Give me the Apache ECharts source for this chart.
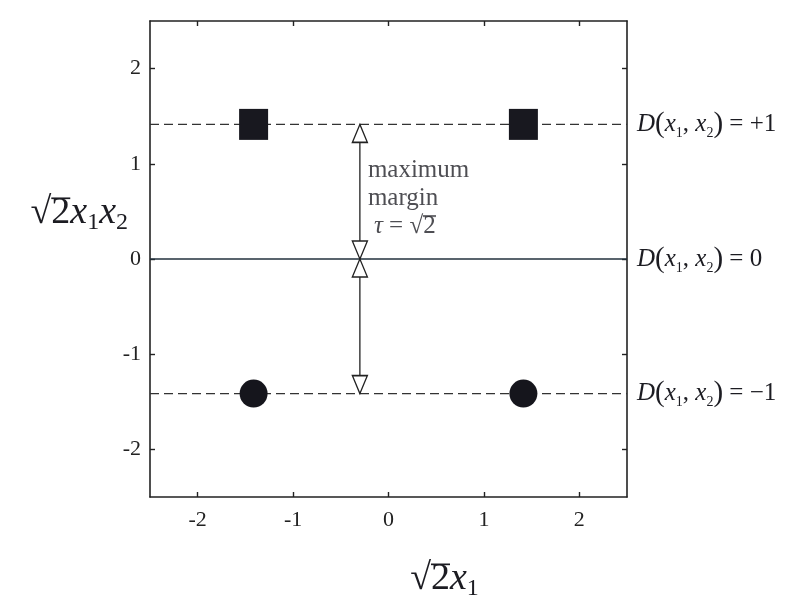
<!DOCTYPE html>
<html><head><meta charset="utf-8">
<script src="https://cdn.jsdelivr.net/npm/echarts@6/dist/echarts.min.js"></script>
<style>html,body{margin:0;background:#fff}#c{width:785px;height:601px}</style>
</head><body><div id="c"></div>
<script>
// Feature-space view of XOR: sqrt(2)x1 vs sqrt(2)x1x2
const tickValues = [-2, -1, 0, 1, 2];
const axisMin = -2.5, axisMax = 2.5;
const squareX = [-1.414, 1.414];
const squareY = [1.414, 1.414];
const circleX = [-1.414, 1.414];
const circleY = [-1.414, -1.414];
const boundaryY = [1.414, 0, -1.414];
const boundaryValue = ['+1', '0', '\u22121'];
const marginX = -0.3;
const noteAnchor = [-0.3, 0.64];
const noteLines = ['maximum', 'margin'];

const serif = "'Liberation Serif', 'DejaVu Serif', serif";
const ink = '#1c1c22';

// Thin bar drawn across the top of the radicand (vinculum of the square root)
function vinculum(boxH, row, thick) {
  const c = document.createElement('canvas');
  c.width = 4; c.height = boxH;
  const g = c.getContext('2d');
  g.fillStyle = ink;
  g.fillRect(0, row, 4, thick);
  return c;
}

const nameRich = {
  r: { fontFamily: serif, fontSize: 38, color: ink, lineHeight: 44 },
  n: { fontFamily: serif, fontSize: 38, color: ink, lineHeight: 44,
       backgroundColor: { image: vinculum(44, 4, 2) } },
  x: { fontFamily: serif, fontSize: 38, fontStyle: 'italic', color: ink, lineHeight: 44 },
  s: { fontFamily: serif, fontSize: 24, color: ink, verticalAlign: 'bottom', lineHeight: 22 }
};

const dLabelRich = {
  d: { fontFamily: serif, fontSize: 25, fontStyle: 'italic', color: ink, lineHeight: 32 },
  p: { fontFamily: serif, fontSize: 29, color: ink, lineHeight: 32 },
  x: { fontFamily: serif, fontSize: 25, fontStyle: 'italic', color: ink, lineHeight: 32 },
  s: { fontFamily: serif, fontSize: 14, color: ink, verticalAlign: 'bottom', lineHeight: 14 },
  e: { fontFamily: serif, fontSize: 25, color: ink, lineHeight: 32 }
};

function frameAxis(dim, pos, showLabels) {
  return {
    type: 'value', min: axisMin, max: axisMax, position: pos,
    axisLine: { show: true, onZero: false, lineStyle: { color: '#222', width: 1.6 } },
    axisTick: { show: true, inside: true, length: 5, customValues: tickValues,
      lineStyle: { color: '#222', width: 1.4 } },
    axisLabel: { show: showLabels, customValues: tickValues, margin: dim === 'x' ? 12 : 9,
      fontFamily: serif, fontSize: 22, color: '#222', formatter: v => String(v) },
    splitLine: { show: false }
  };
}

const xMain = frameAxis('x', 'bottom', true);
xMain.name = '{r|\u221a}{n|2}{x|x}{s|1}';
xMain.nameLocation = 'middle';
xMain.nameGap = 60;
xMain.nameTextStyle = { rich: nameRich, padding: [0, 0, 0, 112] };

const yMain = frameAxis('y', 'left', true);
yMain.name = '{r|\u221a}{n|2}{x|x}{s|1}{x|x}{s|2}';
yMain.nameLocation = 'middle';
yMain.nameRotate = 0;
yMain.nameGap = 22;
yMain.nameMoveOverlap = false;
yMain.nameTextStyle = { rich: nameRich, padding: [0, 0, 92, 0] };

function boundarySeries(y, val, dashed) {
  return {
    type: 'line', silent: true, symbol: 'none', z: 2,
    data: [[axisMin, y], [axisMax, y]],
    lineStyle: dashed ? { color: '#333', width: 1.3, type: [9, 5] } : { color: '#22303c', width: 1.6 },
    endLabel: {
      show: true, distance: 10,
      formatter: () => `{d|D}{p|(}{x|x}{s|1}{e|, }{x|x}{s|2}{p|)}{e| = ${val}}`,
      rich: dLabelRich
    }
  };
}

const arrowHeads = [
  { value: [marginX, boundaryY[0]], symbolRotate: 0, symbolOffset: [0, '50%'] },
  { value: [marginX, boundaryY[1]], symbolRotate: 180, symbolOffset: [0, '-50%'] },
  { value: [marginX, boundaryY[1]], symbolRotate: 0, symbolOffset: [0, '50%'] },
  { value: [marginX, boundaryY[2]], symbolRotate: 180, symbolOffset: [0, '-50%'] }
];

const option = {
  animation: false,
  backgroundColor: '#fff',
  grid: { left: 150, right: 158, top: 21, bottom: 104, outerBoundsMode: 'none', containLabel: false },
  xAxis: [xMain, frameAxis('x', 'top', false)],
  yAxis: [yMain, frameAxis('y', 'right', false)],
  series: [
    boundarySeries(boundaryY[0], boundaryValue[0], true),
    boundarySeries(boundaryY[1], boundaryValue[1], false),
    boundarySeries(boundaryY[2], boundaryValue[2], true),
    {
      type: 'line', silent: true, symbol: 'none', z: 3,
      data: [[marginX, boundaryY[0]], [marginX, boundaryY[2]]],
      lineStyle: { color: '#222', width: 1.3 }
    },
    {
      type: 'scatter', silent: true, z: 4, symbol: 'triangle', symbolSize: [15, 18],
      itemStyle: { color: '#fff', borderColor: '#222', borderWidth: 1.4, opacity: 1 },
      data: arrowHeads
    },
    {
      type: 'scatter', z: 5, symbol: 'rect', symbolSize: [29, 31],
      itemStyle: { color: '#18181f', opacity: 1 },
      data: squareX.map((x, i) => [x, squareY[i]])
    },
    {
      type: 'scatter', z: 5, symbol: 'circle', symbolSize: 28,
      itemStyle: { color: '#15151c', opacity: 1 },
      data: circleX.map((x, i) => [x, circleY[i]])
    },
    {
      type: 'scatter', silent: true, z: 6, symbolSize: 0,
      data: [noteAnchor],
      label: {
        show: true, position: 'right', distance: 8,
        formatter: () => `{t|${noteLines[0]}}\n{t|${noteLines[1]}}\n{g|\u03c4}{t| = \u221a}{n|2}`,
        rich: {
          t: { fontFamily: serif, fontSize: 25, color: '#222228', lineHeight: 28 },
          g: { fontFamily: serif, fontSize: 25, fontStyle: 'italic', color: '#222228', lineHeight: 28, padding: [0, 0, 0, 6] },
          n: { fontFamily: serif, fontSize: 25, color: '#222228', lineHeight: 28,
               backgroundColor: { image: vinculum(28, 2, 1.5) } }
        }
      }
    }
  ]
};

const chart = echarts.init(document.getElementById('c'), null, { renderer: 'canvas' });
chart.setOption(option);
</script>
</body></html>
